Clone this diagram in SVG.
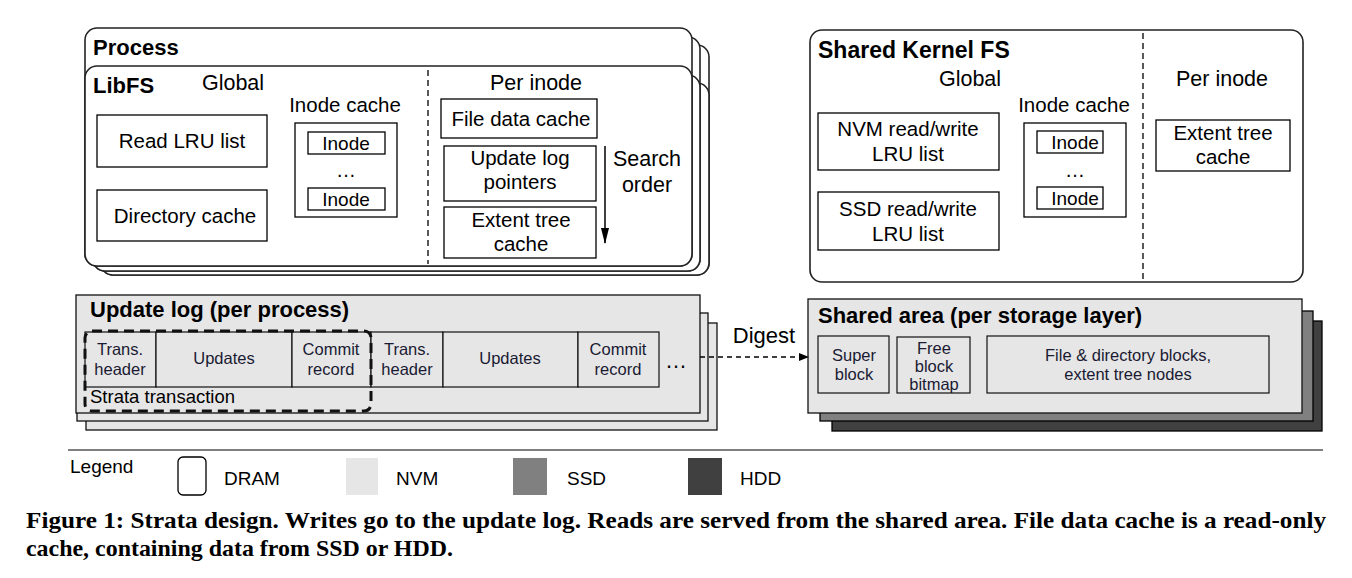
<svg xmlns="http://www.w3.org/2000/svg" width="1352" height="578" viewBox="0 0 1352 578">
<defs>
<style>
text{font-family:"Liberation Sans",Arial,sans-serif;fill:#000}
.t{font-size:20.5px;text-anchor:middle}
.h{font-size:22px;font-weight:bold}
.s{font-size:16.5px;text-anchor:middle;fill:#1a1a33}
.box{fill:#fff;stroke:#000;stroke-width:1.3}
.card{fill:#fff;stroke:#222;stroke-width:1.6}
.nvm{fill:#e6e6e6;stroke:#111;stroke-width:1.3}
.cell{fill:#e6e6e6;stroke:#111;stroke-width:1.2}
.dash{stroke:#000;stroke-width:1.3;stroke-dasharray:6 4;fill:none}
.cap{font-family:"Liberation Serif","Times New Roman",serif;font-weight:bold;font-size:23.5px}
</style>
<marker id="ah" markerWidth="10" markerHeight="10" refX="9" refY="5" orient="auto" markerUnits="userSpaceOnUse">
<path d="M0,1 L10,5 L0,9 Z" fill="#000"/>
</marker>
<marker id="ah2" markerWidth="16" markerHeight="10" refX="15" refY="5" orient="auto" markerUnits="userSpaceOnUse">
<path d="M0,1 L16,5 L0,9 Z" fill="#000"/>
</marker>
</defs>

<g id="process">
<rect class="card" x="101" y="45" width="608" height="230" rx="12"/>
<rect class="card" x="101" y="83" width="608" height="192" rx="12"/>
<rect class="card" x="93" y="37" width="607" height="234" rx="12"/>
<rect class="card" x="93" y="75" width="607" height="196" rx="12"/>
<rect class="card" x="85" y="28" width="607" height="238" rx="12"/>
<rect class="card" x="85" y="66" width="607" height="200" rx="12"/>
<text class="h" x="93" y="55">Process</text>
</g>

<g id="libfs">
<text class="h" x="93" y="93">LibFS</text>
<text class="t" x="233" y="90" style="font-size:21.5px">Global</text>
<text class="t" x="536" y="90" style="font-size:21.5px">Per inode</text>
<line class="dash" x1="428" y1="70" x2="428" y2="264"/>
</g>

<g id="read-lru">
<rect class="box" x="97" y="115" width="170" height="52"/>
<text class="t" x="182" y="148">Read LRU list</text>
</g>
<g id="dir-cache">
<rect class="box" x="97" y="190" width="170" height="51"/>
<text class="t" x="185" y="223">Directory cache</text>
</g>
<g id="libfs-inode-cache">
<text class="t" x="345" y="112">Inode cache</text>
<rect class="box" x="295" y="123" width="102" height="94"/>
<rect class="box" x="308" y="132" width="77" height="22"/>
<text class="t" x="346" y="150" style="font-size:19px">Inode</text>
<text class="t" x="346" y="177" style="font-size:20px">…</text>
<rect class="box" x="308" y="188" width="77" height="22"/>
<text class="t" x="346" y="206" style="font-size:19px">Inode</text>
</g>
<g id="file-data-cache">
<rect class="box" x="441" y="99" width="156" height="39"/>
<text class="t" x="521" y="126">File data cache</text>
</g>
<g id="update-log-pointers">
<rect class="box" x="444" y="146" width="152" height="55"/>
<text class="t" x="520" y="165">Update log</text>
<text class="t" x="520" y="189">pointers</text>
</g>
<g id="libfs-extent-tree">
<rect class="box" x="444" y="207" width="152" height="51"/>
<text class="t" x="521" y="227">Extent tree</text>
<text class="t" x="521" y="251">cache</text>
</g>
<g id="search-order">
<text class="t" x="647" y="166" style="font-size:21.5px">Search</text>
<text class="t" x="647" y="192" style="font-size:21.5px">order</text>
</g>

<g id="kernel-fs">
<rect class="card" x="810" y="30" width="493" height="252" rx="12"/>
<text class="h" x="818" y="58" style="font-size:23px">Shared Kernel FS</text>
<text class="t" x="970" y="86" style="font-size:21.5px">Global</text>
<text class="t" x="1222" y="86" style="font-size:21.5px">Per inode</text>
<line class="dash" x1="1143" y1="33" x2="1143" y2="280"/>
</g>
<g id="nvm-lru">
<rect class="box" x="818" y="113" width="181" height="57"/>
<text class="t" x="908" y="136">NVM read/write</text>
<text class="t" x="908" y="161">LRU list</text>
</g>
<g id="ssd-lru">
<rect class="box" x="818" y="192" width="181" height="58"/>
<text class="t" x="908" y="216">SSD read/write</text>
<text class="t" x="908" y="241">LRU list</text>
</g>
<g id="kfs-inode-cache">
<text class="t" x="1074" y="112">Inode cache</text>
<rect class="box" x="1024" y="123" width="102" height="94"/>
<rect class="box" x="1037" y="131" width="66" height="22"/>
<text class="t" x="1075" y="149" style="font-size:19px">Inode</text>
<text class="t" x="1075" y="177" style="font-size:20px">…</text>
<rect class="box" x="1037" y="187" width="66" height="22"/>
<text class="t" x="1075" y="205" style="font-size:19px">Inode</text>
</g>
<g id="kfs-extent-tree">
<rect class="box" x="1156" y="120" width="134" height="51"/>
<text class="t" x="1223" y="140">Extent tree</text>
<text class="t" x="1223" y="164">cache</text>
</g>

<g id="update-log">
<rect class="nvm" x="86" y="323" width="631" height="107"/>
<rect class="nvm" x="77" y="313" width="631" height="108"/>
<rect class="nvm" x="76" y="295" width="624" height="118"/>
<text class="h" x="90" y="317">Update log (per process)</text>
<rect class="cell" x="85" y="332" width="71" height="55"/>
<rect class="cell" x="156" y="332" width="136" height="55"/>
<rect class="cell" x="292" y="332" width="79" height="55"/>
<rect class="cell" x="371" y="332" width="72" height="55"/>
<rect class="cell" x="443" y="332" width="135" height="55"/>
<rect class="cell" x="578" y="332" width="81" height="55"/>
<text class="s" x="120" y="355">Trans.</text>
<text class="s" x="120" y="375">header</text>
<text class="s" x="224" y="364">Updates</text>
<text class="s" x="331" y="355">Commit</text>
<text class="s" x="331" y="375">record</text>
<text class="s" x="407" y="355">Trans.</text>
<text class="s" x="407" y="375">header</text>
<text class="s" x="510" y="364">Updates</text>
<text class="s" x="618" y="355">Commit</text>
<text class="s" x="618" y="375">record</text>
<text x="677" y="368" style="font-size:22px;text-anchor:middle;letter-spacing:2px">…</text>
</g>
<g id="strata-transaction">
<rect x="85" y="331" width="286" height="80" rx="7" fill="none" stroke="#111" stroke-width="3" stroke-dasharray="10 6"/>
<text x="90" y="403" style="font-size:18.5px">Strata transaction</text>
</g>

<g id="shared-area">
<rect x="832" y="321" width="490" height="110" fill="#404040" stroke="#000" stroke-width="1.3"/>
<rect x="820" y="311" width="493" height="110" fill="#808080" stroke="#000" stroke-width="1.3"/>
<rect class="nvm" x="808" y="299" width="494" height="114"/>
<text class="h" x="818" y="323">Shared area (per storage layer)</text>
<rect class="cell" x="818" y="336" width="71" height="57"/>
<text class="s" x="854" y="361">Super</text>
<text class="s" x="854" y="380">block</text>
<rect class="cell" x="897" y="337" width="73" height="56"/>
<text class="s" x="934" y="354">Free</text>
<text class="s" x="934" y="372">block</text>
<text class="s" x="934" y="390">bitmap</text>
<rect class="cell" x="987" y="336" width="282" height="57"/>
<text class="s" x="1128" y="361">File &amp; directory blocks,</text>
<text class="s" x="1128" y="380">extent tree nodes</text>
</g>

<g id="connectors">
<line x1="605" y1="146" x2="605" y2="243" stroke="#000" stroke-width="1.5" marker-end="url(#ah2)"/>
<line x1="700" y1="357" x2="808" y2="357" stroke="#000" stroke-width="1.3" stroke-dasharray="5 4" marker-end="url(#ah)"/>
<text x="764" y="343" style="font-size:22px;text-anchor:middle">Digest</text>
</g>

<g id="legend">
<line x1="68" y1="450" x2="1323" y2="450" stroke="#000" stroke-width="1"/>
<text x="70" y="473" style="font-size:19px">Legend</text>
<rect x="178" y="457" width="28" height="38" rx="5" fill="#fff" stroke="#000" stroke-width="1.3"/>
<text x="224" y="485" style="font-size:19px">DRAM</text>
<rect x="346" y="458" width="32" height="37" fill="#e6e6e6"/>
<text x="396" y="485" style="font-size:19px">NVM</text>
<rect x="513" y="458" width="34" height="37" fill="#808080"/>
<text x="567" y="485" style="font-size:19px">SSD</text>
<rect x="688" y="458" width="34" height="37" fill="#404040"/>
<text x="740" y="485" style="font-size:19px">HDD</text>
</g>

<g id="caption">
<text class="cap" x="26" y="528" textLength="1300" lengthAdjust="spacingAndGlyphs">Figure 1: Strata design. Writes go to the update log. Reads are served from the shared area. File data cache is a read-only</text>
<text class="cap" x="26" y="556" textLength="427" lengthAdjust="spacingAndGlyphs">cache, containing data from SSD or HDD.</text>
</g>
</svg>
